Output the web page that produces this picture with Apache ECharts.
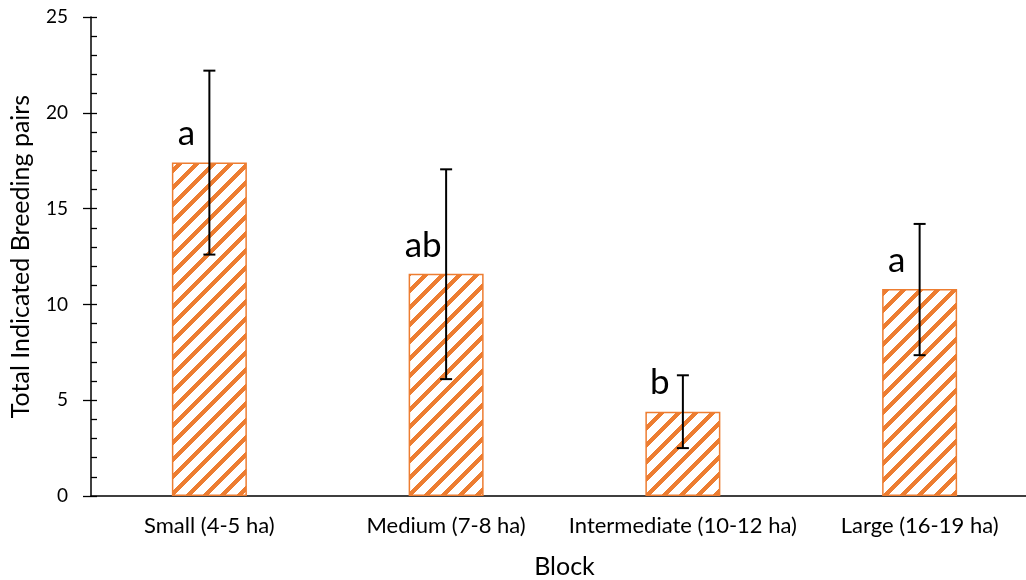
<!DOCTYPE html>
<html><head><meta charset="utf-8">
<script src="https://cdn.jsdelivr.net/npm/echarts@6/dist/echarts.min.js"></script>
<style>html,body{margin:0;padding:0;background:#fff}#wrap{width:1026px;height:580px;overflow:hidden;position:relative}#c{width:1038px;height:580px;position:absolute;left:0;top:0}</style>
</head><body><div id="wrap"><div id="c"></div></div>
<script>
const categories = ['Small (4-5 ha)', 'Medium (7-8 ha)', 'Intermediate (10-12 ha)', 'Large (16-19 ha)'];
const means = [17.4, 11.6, 4.4, 10.8];
const errLow = [12.6, 6.1, 2.5, 7.35];
const errHigh = [22.2, 17.05, 6.3, 14.2];
const sigLetters = ['a', 'ab', 'b', 'a'];
const yTicks = {min: 0, max: 25, interval: 5};

const FONT = 'Lato';
const ORANGE = '#ED7D31';

// hatch pattern: wide upward diagonal
function makeHatch() {
  const p = 17, band = 6;
  const cv = document.createElement('canvas');
  cv.width = p; cv.height = p;
  const ctx = cv.getContext('2d');
  const img = ctx.createImageData(p, p);
  const o = parseInt(ORANGE.slice(1), 16);
  const r = (o >> 16) & 255, g = (o >> 8) & 255, b = o & 255;
  for (let y = 0; y < p; y++) for (let x = 0; x < p; x++) {
    const i = (y * p + x) * 4;
    const on = ((x + y) % p) < band;
    img.data[i] = on ? r : 255; img.data[i + 1] = on ? g : 255; img.data[i + 2] = on ? b : 255; img.data[i + 3] = 255;
  }
  ctx.putImageData(img, 0, 0);
  return cv;
}

const chart = echarts.init(document.getElementById('c'), null, {renderer: 'canvas'});
const errData = categories.map((c, i) => [i, errLow[i], errHigh[i], means[i]]);

chart.setOption({
  animation: false,
  textStyle: {fontFamily: FONT},
  grid: {left: 91, right: 0, top: 17, bottom: 84, containLabel: false, outerBoundsMode: 'none'},
  xAxis: {
    type: 'category', data: categories,
    axisLine: {lineStyle: {color: '#000', width: 1.5}},
    axisTick: {show: false},
    axisLabel: {color: '#000', fontSize: 22, fontFamily: FONT, margin: 19, interval: 0},
    name: 'Block', nameLocation: 'middle', nameGap: 58,
    nameTextStyle: {color: '#000', fontSize: 25, fontFamily: FONT}
  },
  yAxis: [{
    type: 'value', min: yTicks.min, max: yTicks.max, interval: yTicks.interval,
    axisLine: {show: true, lineStyle: {color: '#000', width: 1.5}},
    axisTick: {show: true, length: 8, lineStyle: {color: '#000', width: 1.3}},
    splitLine: {show: false},
    axisLabel: {color: '#000', fontSize: 19, fontFamily: FONT, margin: 23},
    name: 'Total Indicated Breeding pairs', nameLocation: 'middle', nameGap: 58, nameRotate: 90,
    nameTextStyle: {color: '#000', fontSize: 25, fontFamily: FONT}
  }, {
    type: 'value', min: yTicks.min, max: yTicks.max, interval: yTicks.interval, position: 'left',
    axisLine: {show: false},
    axisTick: {show: true, inside: true, length: 6, lineStyle: {color: '#000', width: 1.3}},
    minorTick: {show: true, splitNumber: 5, length: 6, lineStyle: {color: '#000', width: 1.3}},
    splitLine: {show: false}, axisLabel: {show: false}
  }],
  series: [{
    type: 'bar', data: means, barWidth: 75,
    itemStyle: {color: {image: makeHatch(), repeat: 'repeat'}, borderColor: ORANGE, borderWidth: 1.5}
  }, {
    type: 'custom', data: errData, z: 10,
    renderItem: function (params, api) {
      const x = api.coord([api.value(0), 0])[0];
      const lo = api.coord([api.value(0), api.value(1)])[1];
      const hi = api.coord([api.value(0), api.value(2)])[1];
      const top = api.coord([api.value(0), api.value(3)])[1];
      const cap = 6;
      const st = {stroke: '#000', lineWidth: 2};
      return {type: 'group', children: [
        {type: 'line', shape: {x1: x, y1: lo, x2: x, y2: hi}, style: st},
        {type: 'line', shape: {x1: x - cap, y1: lo, x2: x + cap, y2: lo}, style: st},
        {type: 'line', shape: {x1: x - cap, y1: hi, x2: x + cap, y2: hi}, style: st},
        {type: 'text', x: x - 23, y: top - 11, style: {
          text: sigLetters[params.dataIndex], fill: '#000', font: '35px ' + FONT,
          textAlign: 'center', textVerticalAlign: 'bottom'}}
      ]};
    }
  }]
});
</script></body></html>
